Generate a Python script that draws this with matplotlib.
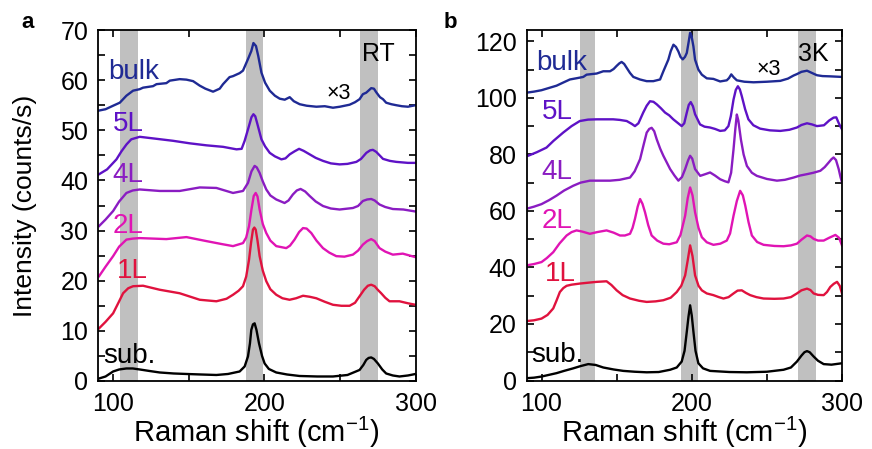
import matplotlib
matplotlib.use("Agg")
import matplotlib.pyplot as plt

plt.rcParams["font.family"] = ["Liberation Sans", "DejaVu Sans"]
plt.rcParams["mathtext.fontset"] = "custom"
plt.rcParams["mathtext.rm"] = "Liberation Sans"
plt.rcParams["mathtext.it"] = "Liberation Sans:italic"

# ---- panel a (room temperature) ----
a_bulk_x = [90.1, 95, 100, 104.4, 108.8, 113.2, 117.6, 119.8, 126.4, 128.7, 135.2, 137.5, 144, 148.5,
            152.9, 157.3, 161, 166.1, 170.5, 172.7, 177, 179.3, 183.7, 185.9, 189.2, 191.4, 192.8, 194.5,
            196, 198.1, 200.5, 203.6, 207, 210.2, 213.5, 216.8, 219.5, 223.4, 228, 234.4, 240, 245.4, 250,
            256.4, 260, 263, 265.2, 267.4, 270.7, 272.5, 274, 276.5, 278.5, 280.6, 284, 287.3, 291, 295, 300]
a_bulk_y = [53.9, 54.2, 54.9, 55.5, 56.9, 57.9, 58.2, 58.5, 58.8, 59.2, 59.4, 59.9, 60.2, 60.1,
            59.8, 58.9, 58.3, 57.7, 58.3, 59.2, 60.6, 60.8, 61.4, 61.9, 64.2, 65.8, 67.4, 66.8,
            64.8, 61.5, 59.5, 57.9, 56.9, 56.3, 56.1, 56.6, 55.8, 55.2, 54.9, 54.7, 54.8, 54.5, 54.7,
            55.1, 55.6, 56.2, 57.2, 57.5, 58.4, 58.3, 57.6, 56.6, 56.2, 55.5, 55.2, 55.0, 54.8, 54.7, 55.0]

a_5l_x = [90.5, 96, 102.2, 105.5, 108.9, 112, 117.6, 128.7, 139.7, 150.7, 161.7, 172.7, 181.6, 185, 187,
          189.9, 191.5, 192.8, 194, 195.2, 198.1, 200.5, 203.6, 207, 211.3, 214, 216.8, 220, 223, 226, 230,
          234, 238.8, 244, 249.8, 255, 260.9, 264, 267.5, 270, 271.8, 274, 278.5, 283, 287.3, 295, 300]
a_5l_y = [41.2, 42.2, 44.2, 45.8, 47.2, 48.2, 48.7, 48.3, 47.9, 47.4, 47.0, 46.7, 46.2, 46.3, 47.9,
          50.9, 52.6, 53.2, 52.8, 51.5, 48.2, 46.8, 45.5, 44.8, 44.2, 44.4, 45.2, 45.8, 46.3, 45.9, 45.2,
          44.5, 43.9, 43.4, 43.2, 43.3, 43.7, 44.3, 45.5, 46.0, 46.1, 45.7, 44.3, 43.9, 43.7, 43.5, 43.5]

a_4l_x = [90.7, 95, 100, 104, 108.8, 113, 117.6, 130.8, 144, 157.3, 168.3, 179.3, 185.9, 189.2, 191.5,
          193.6, 195, 196.9, 199, 201.3, 204, 207.9, 213.4, 216, 218.9, 221.5, 224, 227, 230, 234, 238.8,
          244, 249.8, 258.6, 262, 265.2, 268, 270.7, 273, 276.2, 280, 285, 292, 300]
a_4l_y = [30.9, 32.2, 33.9, 35.8, 37.5, 38.0, 38.2, 37.9, 37.9, 38.6, 38.5, 37.5, 37.9, 39.5, 41.8,
          42.9, 42.6, 41.5, 39.8, 38.2, 37.0, 36.2, 35.5, 36.0, 37.2, 38.0, 38.3, 37.8, 36.9, 35.8, 34.9,
          34.4, 34.2, 34.5, 34.9, 35.9, 36.2, 36.3, 36.0, 35.2, 34.7, 34.3, 34.2, 33.8]

a_2l_x = [90.7, 95, 100, 104, 108.8, 113, 117.6, 135.2, 148.5, 161.7, 172, 179.3, 185.9, 188, 189.9,
          191.5, 193, 194.3, 195.5, 196.9, 199, 201.3, 204, 207.9, 214.5, 217, 220, 223, 225.6, 228,
          231.1, 234.5, 238.8, 243, 247.6, 253, 258.6, 262, 265.2, 268, 270.7, 273, 276.2, 280, 285,
          291.6, 300]
a_2l_y = [20.9, 22.8, 24.9, 26.8, 28.2, 28.4, 28.5, 28.3, 28.7, 27.9, 27.3, 26.9, 27.5, 28.6, 30.9,
          34.2, 36.9, 37.5, 36.8, 34.2, 31.3, 29.5, 28.0, 26.9, 26.5, 27.0, 28.2, 29.7, 30.5, 30.4,
          29.5, 28.0, 26.5, 25.6, 24.9, 24.8, 25.2, 26.0, 27.2, 27.9, 28.3, 27.9, 26.5, 25.8, 25.2,
          25.4, 24.7]

a_1l_x = [90.7, 95, 100, 103.5, 106.6, 110, 113.2, 119.8, 130.8, 144, 157.3, 168.3, 175, 179.3, 183,
          185.9, 188, 189.9, 191.2, 192.5, 193.4, 194.3, 195.5, 196.9, 199, 201.3, 204, 207.9, 212,
          216.7, 221, 225.6, 230, 234.4, 240, 245.4, 251, 256.4, 260, 263, 266, 268.5, 270.7, 273, 275,
          277.3, 280, 282.8, 289.4, 295, 300]
a_1l_y = [10.5, 11.8, 13.5, 15.6, 17.5, 18.5, 18.9, 19.0, 18.2, 17.5, 16.2, 15.9, 16.4, 17.2, 18.0,
          18.9, 20.8, 24.2, 27.5, 30.2, 30.6, 30.2, 28.0, 24.9, 22.0, 19.9, 18.3, 17.2, 16.5,
          16.2, 16.5, 17.0, 16.8, 16.5, 15.8, 15.2, 15.0, 15.0, 15.6, 16.9, 18.2, 19.0, 19.2, 18.9, 18.2,
          17.5, 16.6, 15.9, 15.9, 15.5, 15.2]

a_sub_x = [90.7, 95, 100, 104, 108.8, 113, 117.6, 124, 130.8, 140, 148.5, 158, 168.3, 176, 183.7, 187,
           189.2, 190.5, 191.4, 192.5, 193.6, 194.8, 196.5, 198.5, 200.2, 203, 207.9, 215, 223.3, 235,
           245.4, 255, 263, 265.5, 267.4, 269, 270.7, 272.5, 275.1, 278, 280.6, 285, 289.4, 295, 300]
a_sub_y = [0.5, 0.9, 1.9, 2.3, 2.5, 2.5, 2.3, 2.0, 1.7, 1.5, 1.4, 1.3, 1.2, 1.4, 1.9, 2.9,
           4.9, 7.5, 10.2, 11.3, 11.5, 10.2, 7.5, 5.0, 3.5, 2.4, 1.7, 1.3, 1.0, 0.9,
           0.9, 1.2, 2.2, 3.2, 4.2, 4.6, 4.7, 4.4, 3.5, 2.3, 1.5, 1.1, 0.9, 1.1, 1.4]

a_bands = [(104.5, 116.2), (187.8, 199.3), (263.6, 275.5)]

# ---- panel b (3 K) ----
b_bulk_x = [89.6, 95, 100, 105, 110, 114.4, 118.9, 124, 127.8, 130, 136.7, 141.1, 145.6, 148, 150, 151.8,
            153.3, 155, 156.7, 158.9, 161.1, 165.5, 170, 174.4, 178.9, 181.1, 184.4, 186, 187.8, 189.5,
            191.1, 192.5, 194, 195.5, 196.7, 198, 198.9, 199.8, 201.1, 202.2, 204.4, 206.7, 210, 214.4,
            218.9, 223.3, 224.8, 226.3, 228, 230, 235, 241.1, 250, 258.9, 264, 267.8, 270, 273, 276.7,
            280, 283.3, 287, 292.2, 296, 300]
b_bulk_y = [101.8, 102.2, 102.7, 103.5, 104.3, 105.4, 106.5, 107.0, 107.4, 108.2, 108.6, 109.4, 109.4,
            110.2, 111.3, 112.2, 112.7, 112.0, 110.6, 108.8, 107.4, 106.5, 105.9, 105.9, 106.5, 109.4,
            113.5, 116.5, 118.8, 118.0, 116.4, 114.5, 113.6, 114.5, 115.9, 120.0, 123.0, 122.0, 118.2,
            113.5, 110.0, 108.2, 106.9, 106.7, 105.8, 106.2, 107.0, 108.3, 107.2, 106.2, 105.7, 105.5,
            105.7, 106.0, 106.8, 107.9, 108.4, 109.2, 109.6, 108.8, 108.0, 107.7, 107.6, 107.5, 107.4]

b_5l_x = [89.6, 91.1, 97, 103.3, 108, 114.4, 120, 125.5, 131, 136.7, 147.7, 152, 156.7, 160, 162.2, 164.5,
          167.7, 170, 172.2, 174.5, 176.7, 179.5, 182.2, 185, 187.7, 190.5, 193.3, 195, 196.7, 198, 199.3,
          200.8, 202.2, 205.5, 208.5, 212.2, 215.5, 218.9, 222, 224.4, 226, 227.8, 229.3, 230.7, 232,
          233.3, 235.5, 237.7, 241, 245.5, 252, 258.9, 265, 270, 273, 276.7, 280, 283.3, 288, 291.5,
          294.4, 296.2, 297.7, 299, 300]
b_5l_y = [80.0, 79.5, 80.8, 82.4, 84.8, 87.7, 90.0, 91.8, 92.3, 92.4, 92.4, 92.2, 91.8, 90.8, 90.0, 91.0,
          94.8, 97.2, 98.8, 98.6, 97.7, 96.3, 94.8, 93.8, 92.4, 91.2, 90.0, 91.0, 94.8, 97.5, 98.5,
          97.0, 94.2, 90.6, 89.8, 89.5, 89.0, 88.3, 88.5, 90.0, 93.5, 99.4, 102.8, 104.1, 103.0,
          100.6, 96.0, 92.4, 90.3, 89.1, 88.5, 88.3, 88.7, 89.5, 90.4, 91.0, 90.6, 90.0, 90.3, 92.0,
          93.0, 93.1, 91.2, 89.8, 88.9]

b_4l_x = [89.6, 95, 100, 105, 110, 115, 121.1, 126, 132.2, 145.6, 152, 158.9, 162, 165.6, 168, 170, 171.7,
          173.3, 175, 176.7, 179, 181.1, 183.5, 185.6, 188.5, 191.1, 193.5, 195.6, 197.5, 198.9, 200.3,
          202.2, 205.6, 209, 212.2, 215.5, 218.9, 222, 224.4, 226.2, 227.8, 229, 230, 231, 232.7, 234.5,
          236.7, 240, 243.3, 250, 256.7, 262, 267.8, 272, 276.7, 281, 285.6, 288.5, 291.1, 293, 294.4,
          296, 297.8, 299, 300]
b_4l_y = [60.7, 61.5, 62.4, 63.8, 65.4, 67.2, 68.9, 70.0, 70.7, 70.7, 71.0, 71.8, 74.0, 78.3, 83.5, 87.7,
          89.0, 89.4, 88.2, 85.3, 82.0, 79.5, 77.0, 74.8, 72.5, 70.7, 72.0, 74.8, 77.8, 79.5, 78.5,
          74.8, 72.4, 73.0, 73.6, 72.5, 71.2, 70.5, 70.1, 73.5, 81.8, 89.0, 94.1, 92.0, 85.3, 80.0,
          75.9, 73.5, 72.4, 71.3, 70.7, 71.0, 71.8, 72.5, 73.0, 73.5, 74.2, 75.5, 77.1, 78.3, 78.9,
          78.0, 74.8, 72.0, 70.1]

b_2l_x = [89.6, 95, 100, 103.5, 107.8, 112, 116.7, 120, 123.3, 127, 132.2, 137, 143.3, 148, 152.2, 155.5,
          158.9, 160.6, 162.2, 164, 165.6, 167.2, 168.9, 171, 173.3, 177, 181.1, 185, 190, 192.5, 195.6,
          197.3, 198.9, 200.5, 202.2, 204.5, 206.7, 210, 214.4, 219, 223.3, 225.5, 227.8, 230, 232.2,
          234, 235.6, 237.8, 240, 243.5, 247.8, 255, 261.1, 266, 270, 273, 276.7, 279, 281.1, 284,
          287.8, 291.5, 295.6, 298, 300]
b_2l_y = [40.7, 41.2, 41.9, 43.3, 45.4, 48.5, 51.3, 52.5, 53.1, 52.7, 51.9, 52.5, 53.1, 52.3, 51.3, 51.3,
          51.9, 54.0, 57.2, 61.5, 64.2, 62.5, 59.5, 55.0, 51.3, 49.5, 48.4, 48.2, 48.9, 51.5, 58.3,
          64.5, 68.3, 65.5, 59.5, 54.0, 50.7, 48.9, 48.0, 48.4, 49.5, 52.0, 58.3, 63.5, 67.1,
          65.5, 61.9, 56.0, 51.3, 49.0, 48.0, 47.6, 47.5, 47.8, 48.4, 49.8, 51.3, 51.0, 50.1, 49.5,
          49.5, 50.5, 51.5, 50.5, 47.8]

b_1l_x = [89.6, 95, 100, 104, 107.8, 110, 112.2, 114.5, 116.7, 120, 125.6, 131, 136.7, 140, 143.3, 146.5,
          150, 154, 158.9, 165, 170, 176, 181.1, 186, 190, 193, 195.6, 197.3, 198.9, 200.5, 202.2, 204.5,
          206.7, 210, 214.4, 218, 221.1, 224.5, 227.8, 230.5, 233.3, 236, 238.9, 243, 247.8, 255, 261.1,
          266, 270, 273, 276.7, 279, 281.1, 284, 287.8, 290, 292.2, 294.5, 296.7, 298.5, 300]
b_1l_y = [21.0, 21.3, 21.9, 23.2, 25.5, 28.3, 31.3, 32.7, 33.5, 33.9, 34.3, 34.6, 34.9, 35.0, 35.1, 33.8,
          31.9, 30.2, 29.0, 28.2, 27.8, 28.0, 28.4, 29.3, 31.3, 33.5, 37.2, 42.5, 47.8, 44.0, 37.2, 33.5,
          31.9, 30.8, 30.2, 29.5, 29.0, 29.5, 30.8, 31.8, 31.9, 31.0, 30.2, 29.5, 29.0, 28.9, 29.0,
          29.5, 30.8, 31.9, 32.5, 32.0, 30.8, 30.3, 30.2, 31.3, 33.1, 34.2, 34.9, 33.5, 30.8]

b_sub_x = [89.6, 95, 100, 105, 110, 115, 121.1, 126, 131.1, 136, 141.1, 148, 154.4, 162, 170, 178, 185.6,
           190, 193.3, 195.2, 196.7, 197.8, 198.9, 200, 201.1, 202.5, 204.4, 207.5, 212.2, 225, 236.7,
           250, 261.1, 266, 270, 273, 275, 276.7, 278.5, 281.1, 284, 287.8, 293, 300]
b_sub_y = [0.8, 1.0, 1.4, 2.0, 2.6, 3.4, 4.3, 5.1, 5.8, 5.5, 4.6, 3.9, 3.4, 3.1, 2.9, 3.0, 3.8,
           4.6, 6.7, 10.5, 17.3, 22.5, 26.6, 23.0, 17.3, 10.5, 6.1, 4.3, 3.4, 3.0, 2.9,
           3.1, 3.8, 4.6, 6.7, 8.8, 10.0, 10.4, 10.0, 8.5, 7.0, 5.8, 5.6, 6.1]

b_bands = [(125.5, 135.5), (192.8, 204.4), (270.7, 282.7)]

names = ["bulk", "5L", "4L", "2L", "1L", "sub."]
colors = ["#1f2a94", "#5e12c6", "#8a1cc2", "#e014b4", "#e0123e", "black"]

a_curves = [(a_bulk_x, a_bulk_y), (a_5l_x, a_5l_y), (a_4l_x, a_4l_y),
            (a_2l_x, a_2l_y), (a_1l_x, a_1l_y), (a_sub_x, a_sub_y)]
b_curves = [(b_bulk_x, b_bulk_y), (b_5l_x, b_5l_y), (b_4l_x, b_4l_y),
            (b_2l_x, b_2l_y), (b_1l_x, b_1l_y), (b_sub_x, b_sub_y)]

# label anchors (left, baseline) in data coords
a_label_pos = [(96.5, 60.2), (99.8, 49.9), (99.8, 39.7), (99.8, 29.5), (102.2, 20.5), (93.4, 3.5)]
b_label_pos = [(96.2, 110.0), (100.0, 92.6), (100.0, 71.3), (100.0, 53.9), (102.2, 35.1), (92.9, 6.7)]

fig = plt.figure(figsize=(8.72, 4.49), dpi=100)
ax_a = fig.add_axes([98 / 872, 1 - 381 / 449, 317.5 / 872, 351 / 449])
ax_b = fig.add_axes([526.5 / 872, 1 - 380.5 / 449, 315.5 / 872, 350.5 / 449])


def draw_panel(ax, curves, bands, label_pos, ylim, ymajor, yminor, temp, temp_xy, x3_xy):
    for lo, hi in bands:
        ax.axvspan(lo, hi, color="#c0c0c0", lw=0, zorder=0)
    for (xs, ys), c in zip(curves, colors):
        ax.plot(xs, ys, color=c, lw=1.7, zorder=2, solid_joinstyle="round")
    for name, c, (lx, ly) in zip(names, colors, label_pos):
        ax.text(lx, ly, name, color=c, fontsize=20, ha="left", va="baseline", zorder=3)
    ax.text(temp_xy[0], temp_xy[1], temp, fontsize=18, ha="center", va="baseline")
    ax.text(x3_xy[0], x3_xy[1], "\u00d73", fontsize=15.5, ha="center", va="baseline")
    ax.set_xlim(90, 300)
    ax.set_ylim(*ylim)
    ax.set_xticks([100, 200, 300])
    ax.set_xticks([150, 250], minor=True)
    ax.set_yticks(list(range(0, int(ylim[1]) + 1, ymajor)))
    ax.set_yticks(list(range(yminor, int(ylim[1]) + 1, ymajor)), minor=True)
    ax.tick_params(which="both", direction="in", top=True, right=True, width=1.2,
                   length=5, labelsize=18)
    ax.tick_params(axis="y", pad=7)
    ax.tick_params(axis="x", pad=8)
    for s in ax.spines.values():
        s.set_linewidth(1.3)


draw_panel(ax_a, a_curves, a_bands, a_label_pos, (0, 70), 10, 5, "RT", (275.6, 63.9), (249.5, 56.2))
draw_panel(ax_b, b_curves, b_bands, b_label_pos, (0.6, 124), 20, 10, "3K", (281.0, 112.9), (251.0, 108.2))

fig.text(256 / 872, 1 - 432 / 449, "Raman shift (cm$^{-1}$)", fontsize=21, ha="center", va="center")
fig.text(684 / 872, 1 - 432 / 449, "Raman shift (cm$^{-1}$)", fontsize=21, ha="center", va="center")
fig.text(25 / 872, 1 - 206 / 449, "Intensity (counts/s)", fontsize=19, rotation=90,
         ha="center", va="center")
fig.text(28 / 872, 1 - 23 / 449, "a", fontsize=16, fontweight="bold", ha="center", va="center")
fig.text(450 / 872, 1 - 22 / 449, "b", fontsize=16, fontweight="bold", ha="center", va="center")

fig.savefig("out.png", dpi=100)
